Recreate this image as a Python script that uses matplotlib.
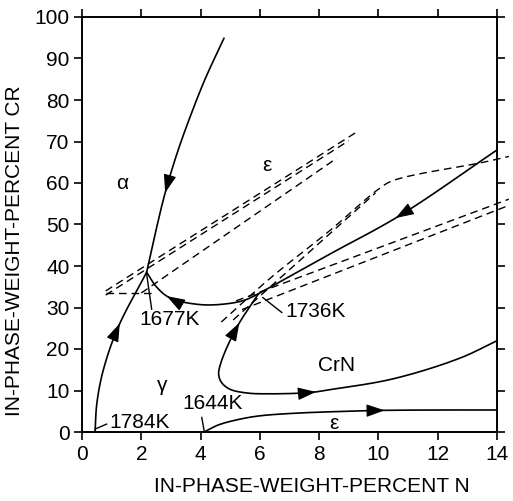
import numpy as np
import matplotlib
matplotlib.use("Agg")
import matplotlib.pyplot as plt

plt.rcParams['font.family'] = ['Liberation Sans', 'DejaVu Sans']

# ---------------- data ----------------
x_ticks = [0, 2, 4, 6, 8, 10, 12, 14]
y_ticks = [0, 10, 20, 30, 40, 50, 60, 70, 80, 90, 100]

# solid phase-boundary curves (wt% N, wt% Cr)
alpha_low_x = [0.44, 0.50, 0.71, 1.21, 2.18]
alpha_low_y = [0.0, 6.8, 14.7, 25.1, 38.5]

alpha_up_x = [2.18, 2.46, 2.80, 3.20, 3.65, 4.15, 4.79]
alpha_up_y = [38.5, 47.5, 57.5, 67.0, 76.0, 85.0, 94.9]

mid_x = [2.18, 2.52, 2.97, 3.98, 4.89, 5.50, 5.95]
mid_y = [38.5, 34.9, 32.3, 30.7, 30.9, 31.8, 33.3]

upper_right_x = [5.95, 8.37, 10.73, 14.03]
upper_right_y = [33.3, 42.9, 52.2, 68.1]

crn_x = [5.95, 5.22, 4.70, 4.61, 4.71, 4.99, 5.56, 6.20, 7.69, 8.27, 10.49, 12.75, 14.0]
crn_y = [33.3, 25.2, 17.0, 13.9, 11.9, 10.3, 9.4, 9.2, 9.5, 10.1, 12.8, 17.8, 22.0]

eps_x = [4.12, 4.60, 5.33, 6.00, 7.12, 8.50, 10.05, 12.0, 14.0]
eps_y = [0.0, 1.7, 3.1, 3.9, 4.5, 4.9, 5.2, 5.3, 5.3]

# dashed tie-lines
tie_u1_x = [0.8, 9.27];  tie_u1_y = [34.0, 72.3]
tie_u2_x = [0.8, 9.0];   tie_u2_y = [33.0, 70.2]
tie_u3_x = [2.0, 8.6];   tie_u3_y = [33.5, 66.0]
tie_h_x = [0.8, 2.4];    tie_h_y = [33.6, 33.6]
tie_r1_x = [4.7, 6.34, 8.37, 10.0, 10.5, 13.54, 14.4]
tie_r1_y = [26.5, 37.0, 48.6, 58.5, 60.6, 65.0, 66.4]
tie_r1b_x = [5.1, 9.9];  tie_r1b_y = [27.0, 57.6]
tie_r2_x = [5.2, 14.4];  tie_r2_y = [31.6, 56.1]
tie_r3_x = [5.4, 14.4];  tie_r3_y = [29.5, 54.6]

# temperature labels: text, label position, leader start, leader end
temp_labels = ["1677K", "1736K", "1784K", "1644K"]
temp_text_x = [2.97, 6.85, 0.91, 4.40]
temp_text_y = [27.0, 29.0, 2.3, 6.9]
lead_x0 = [2.18, 6.10, 0.44, 4.04]
lead_y0 = [38.1, 32.4, 0.7, 3.5]
lead_x1 = [2.35, 6.74, 0.83, 4.12]
lead_y1 = [29.6, 28.8, 1.9, 0.3]

phase_labels = ["α", "ε", "γ", "CrN", "ε"]
phase_x = [1.34, 6.23, 2.69, 8.60, 8.50]
phase_y = [59.8, 64.2, 11.1, 16.0, 2.0]


# ---------------- helpers ----------------
def smooth(xs, ys, n=25):
    P = np.column_stack([np.asarray(xs) / 14.0, np.asarray(ys) / 100.0])
    if len(P) < 3:
        return np.asarray(xs, float), np.asarray(ys, float)
    ext = np.vstack([2 * P[0] - P[1], P, 2 * P[-1] - P[-2]])
    out = []
    for i in range(1, len(ext) - 2):
        p0, p1, p2, p3 = ext[i - 1], ext[i], ext[i + 1], ext[i + 2]
        t0 = 0.0
        t1 = t0 + max(np.linalg.norm(p1 - p0), 1e-6) ** 0.5
        t2 = t1 + max(np.linalg.norm(p2 - p1), 1e-6) ** 0.5
        t3 = t2 + max(np.linalg.norm(p3 - p2), 1e-6) ** 0.5
        t = np.linspace(t1, t2, n)[:, None]
        a1 = (t1 - t) / (t1 - t0) * p0 + (t - t0) / (t1 - t0) * p1
        a2 = (t2 - t) / (t2 - t1) * p1 + (t - t1) / (t2 - t1) * p2
        a3 = (t3 - t) / (t3 - t2) * p2 + (t - t2) / (t3 - t2) * p3
        b1 = (t2 - t) / (t2 - t0) * a1 + (t - t0) / (t2 - t0) * a2
        b2 = (t3 - t) / (t3 - t1) * a2 + (t - t1) / (t3 - t1) * a3
        c = (t2 - t) / (t2 - t1) * b1 + (t - t1) / (t2 - t1) * b2
        out.append(c if i == 1 else c[1:])
    C = np.vstack(out)
    return C[:, 0] * 14.0, C[:, 1] * 100.0


def arrow_on(ax, cx, cy, frac, forward=True):
    nx, ny = np.asarray(cx) / 14.0, np.asarray(cy) / 100.0
    seg = np.hypot(np.diff(nx), np.diff(ny))
    s = np.concatenate([[0], np.cumsum(seg)])
    L = s[-1]
    st = frac * L
    sb = st - 0.02 * L if forward else st + 0.02 * L
    tip = (np.interp(st, s, cx), np.interp(st, s, cy))
    base = (np.interp(sb, s, cx), np.interp(sb, s, cy))
    ax.annotate("", xy=tip, xytext=base,
                arrowprops=dict(arrowstyle="-|>,head_length=0.95,head_width=0.33",
                                mutation_scale=12, color="black", lw=0.8,
                                shrinkA=0, shrinkB=0))


# ---------------- figure ----------------
fig = plt.figure(figsize=(5.13, 5.01), dpi=100)
ax = fig.add_axes([82 / 513, 69 / 501, 415 / 513, 415 / 501])
ax.set_xlim(0, 14)
ax.set_ylim(0, 100)

lw = 1.2
curves = {}
for name, xs, ys in [("alow", alpha_low_x, alpha_low_y),
                     ("aup", alpha_up_x, alpha_up_y),
                     ("mid", mid_x, mid_y),
                     ("ur", upper_right_x, upper_right_y),
                     ("crn", crn_x, crn_y),
                     ("eps", eps_x, eps_y)]:
    sx, sy = smooth(xs, ys)
    curves[name] = (sx, sy)
    ax.plot(sx, sy, color="black", lw=lw, solid_capstyle="round")

arrow_on(ax, *curves["alow"], 0.66, True)
arrow_on(ax, *curves["aup"], 0.33, False)
arrow_on(ax, *curves["mid"], 0.25, False)
arrow_on(ax, *curves["ur"], 0.56, False)
arrow_on(ax, *curves["crn"], 0.09, False)
arrow_on(ax, *curves["crn"], 0.51, True)
arrow_on(ax, *curves["eps"], 0.62, True)

dash = dict(color="black", lw=1.0, linestyle=(0, (5.5, 3.5)), clip_on=False)
for xs, ys in [(tie_u1_x, tie_u1_y), (tie_u2_x, tie_u2_y), (tie_u3_x, tie_u3_y),
               (tie_h_x, tie_h_y), (tie_r1b_x, tie_r1b_y),
               (tie_r2_x, tie_r2_y), (tie_r3_x, tie_r3_y)]:
    ax.plot(xs, ys, **dash)
r1x, r1y = smooth(tie_r1_x, tie_r1_y, n=15)
ax.plot(r1x, r1y, **dash)

fs = 15
for t, tx, ty, x0, y0, x1, y1 in zip(temp_labels, temp_text_x, temp_text_y,
                                     lead_x0, lead_y0, lead_x1, lead_y1):
    ax.plot([x0, x1], [y0, y1], color="black", lw=1.0)
ax.text(temp_text_x[0], temp_text_y[0], temp_labels[0], ha="center", va="center", fontsize=fs)
ax.text(temp_text_x[1], temp_text_y[1], temp_labels[1], ha="left", va="center", fontsize=fs)
ax.text(temp_text_x[2], temp_text_y[2], temp_labels[2], ha="left", va="center", fontsize=fs)
ax.text(temp_text_x[3], temp_text_y[3], temp_labels[3], ha="center", va="center", fontsize=fs)

for t, px, py in zip(phase_labels, phase_x, phase_y):
    ax.text(px, py, t, ha="center", va="center", fontsize=fs)

ax.set_xticks(x_ticks)
ax.set_yticks(y_ticks)
ax.set_xticklabels([str(v) for v in x_ticks], fontsize=fs)
ax.set_yticklabels([str(v) for v in y_ticks], fontsize=fs)
ax.tick_params(direction="out", length=6, width=1.2, top=True, right=True,
               labeltop=False, labelright=False, pad=3)
for sp in ax.spines.values():
    sp.set_linewidth(1.4)

fig.text(312 / 513, 1 - 486 / 501, "IN-PHASE-WEIGHT-PERCENT N",
         ha="center", va="center", fontsize=fs)
fig.text(15 / 513, 1 - 251 / 501, "IN-PHASE-WEIGHT-PERCENT CR",
         ha="center", va="center", rotation=90, fontsize=fs)

fig.savefig("out.png", dpi=100)
